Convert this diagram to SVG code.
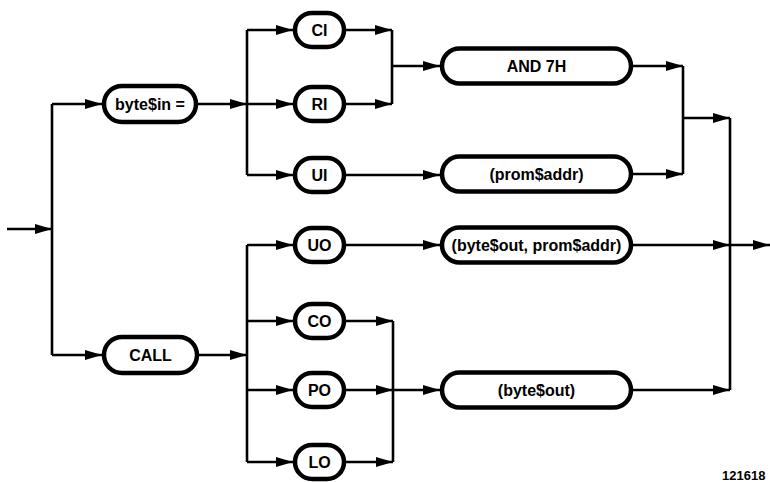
<svg xmlns="http://www.w3.org/2000/svg" width="770" height="482" viewBox="0 0 770 482">
<defs>
<style>
.pill{fill:#fff;stroke:#000;stroke-width:4.5}
.lbl{font-family:"Liberation Sans",Arial,sans-serif;font-weight:bold;font-size:16px;fill:#000;text-anchor:middle}
.ln{fill:none;stroke:#000;stroke-width:2.6}
.ar{fill:none;stroke:#000;stroke-width:2.6;marker-end:url(#ah)}
.fig{font-family:"Liberation Sans",Arial,sans-serif;font-weight:bold;font-size:13px;fill:#000}
</style>
<marker id="ah" markerUnits="userSpaceOnUse" markerWidth="18" markerHeight="11" refX="17" refY="5" orient="auto">
<path d="M0,0 L17,5 L0,10 Z" fill="#000"/>
</marker>
</defs>
<rect width="770" height="482" fill="#fff"/>
<g id="connectors">
<line class="ar" x1="7" y1="229" x2="52" y2="229"/>
<line class="ln" x1="52" y1="104" x2="52" y2="355"/>
<line class="ar" x1="52" y1="104" x2="102" y2="104"/>
<line class="ar" x1="52" y1="355" x2="102" y2="355"/>
<line class="ar" x1="198" y1="104" x2="247" y2="104"/>
<line class="ln" x1="247" y1="30" x2="247" y2="175"/>
<line class="ar" x1="247" y1="30" x2="293" y2="30"/>
<line class="ar" x1="247" y1="104" x2="293" y2="104"/>
<line class="ar" x1="247" y1="175" x2="293" y2="175"/>
<line class="ar" x1="346" y1="30" x2="392" y2="30"/>
<line class="ar" x1="346" y1="104" x2="392" y2="104"/>
<line class="ln" x1="392" y1="30" x2="392" y2="104"/>
<line class="ar" x1="392" y1="66" x2="440" y2="66"/>
<line class="ar" x1="346" y1="175" x2="440" y2="175"/>
<line class="ar" x1="633" y1="66" x2="683" y2="66"/>
<line class="ar" x1="633" y1="174" x2="683" y2="174"/>
<line class="ln" x1="683" y1="66" x2="683" y2="174"/>
<line class="ar" x1="683" y1="118" x2="730" y2="118"/>
<line class="ln" x1="730" y1="118" x2="730" y2="390"/>
<line class="ar" x1="633" y1="245" x2="730" y2="245"/>
<line class="ar" x1="730" y1="245" x2="770" y2="245"/>
<line class="ar" x1="633" y1="390" x2="730" y2="390"/>
<line class="ar" x1="199" y1="355" x2="247" y2="355"/>
<line class="ln" x1="247" y1="245" x2="247" y2="462"/>
<line class="ar" x1="247" y1="245" x2="293" y2="245"/>
<line class="ar" x1="247" y1="321" x2="293" y2="321"/>
<line class="ar" x1="247" y1="390" x2="293" y2="390"/>
<line class="ar" x1="247" y1="462" x2="293" y2="462"/>
<line class="ar" x1="346" y1="245" x2="440" y2="245"/>
<line class="ar" x1="346" y1="321" x2="393" y2="321"/>
<line class="ar" x1="346" y1="390" x2="393" y2="390"/>
<line class="ar" x1="346" y1="462" x2="393" y2="462"/>
<line class="ln" x1="393" y1="321" x2="393" y2="462"/>
<line class="ar" x1="393" y1="390" x2="440" y2="390"/>
</g>
<g id="bytein"><rect class="pill" x="104" y="86" width="92" height="36" rx="18"/><text class="lbl" x="150" y="110">byte$in =</text></g>
<g id="call"><rect class="pill" x="104" y="337" width="93" height="36" rx="18"/><text class="lbl" x="150.5" y="361">CALL</text></g>
<g id="ci"><rect class="pill" x="295" y="13" width="49" height="34" rx="17"/><text class="lbl" x="319.5" y="36">CI</text></g>
<g id="ri"><rect class="pill" x="295" y="87" width="49" height="34" rx="17"/><text class="lbl" x="319.5" y="110">RI</text></g>
<g id="ui"><rect class="pill" x="295" y="158" width="49" height="34" rx="17"/><text class="lbl" x="319.5" y="181">UI</text></g>
<g id="uo"><rect class="pill" x="295" y="228" width="49" height="34" rx="17"/><text class="lbl" x="319.5" y="251">UO</text></g>
<g id="co"><rect class="pill" x="295" y="304" width="49" height="34" rx="17"/><text class="lbl" x="319.5" y="327">CO</text></g>
<g id="po"><rect class="pill" x="295" y="373" width="49" height="34" rx="17"/><text class="lbl" x="319.5" y="396">PO</text></g>
<g id="lo"><rect class="pill" x="295" y="445" width="49" height="34" rx="17"/><text class="lbl" x="319.5" y="468">LO</text></g>
<g id="and7h"><rect class="pill" x="442" y="48.5" width="189" height="35" rx="17.5"/><text class="lbl" x="536.5" y="72">AND 7H</text></g>
<g id="promaddr"><rect class="pill" x="442" y="156.5" width="189" height="35" rx="17.5"/><text class="lbl" x="536.5" y="180">(prom$addr)</text></g>
<g id="byteoutprom"><rect class="pill" x="442" y="227.5" width="189" height="35" rx="17.5"/><text class="lbl" x="536.5" y="251">(byte$out, prom$addr)</text></g>
<g id="byteout"><rect class="pill" x="442" y="372.5" width="189" height="35" rx="17.5"/><text class="lbl" x="536.5" y="396">(byte$out)</text></g>
<text class="fig" x="722" y="480">121618</text>
</svg>
